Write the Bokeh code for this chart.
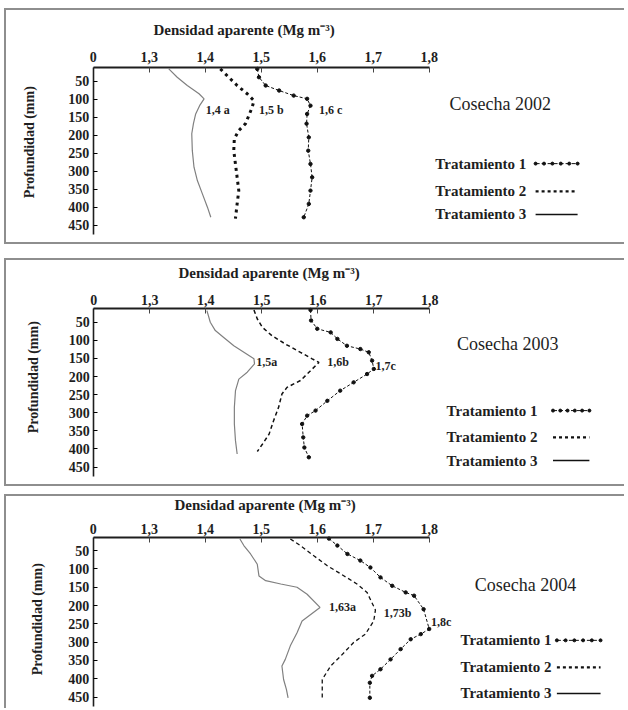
import math
from bokeh.plotting import figure
from bokeh.models import Range1d, FixedTicker
from bokeh.layouts import column
from bokeh.embed import file_html
from bokeh.resources import INLINE
from bokeh.core.properties import value

# ---------------- data ----------------
x_ticks = [1.2, 1.3, 1.4, 1.5, 1.6, 1.7, 1.8]
x_tick_labels = ["0", "1,3", "1,4", "1,5", "1,6", "1,7", "1,8"]
y_ticks = [50, 100, 150, 200, 250, 300, 350, 400, 450]
series_names = ["Tratamiento  1", "Tratamiento  2", "Tratamiento  3"]
x_title = "Densidad aparente (Mg m\u207b\u00b3)"
y_title = "Profundidad  (mm)"

# Cosecha 2002
depth_2002_t1 = [16, 39, 62, 76, 90, 99, 118, 141, 168, 206, 243, 280, 317, 354, 391, 428]
dens_2002_t1 = [1.493, 1.496, 1.508, 1.532, 1.558, 1.582, 1.588, 1.582, 1.581, 1.585,
                1.584, 1.588, 1.591, 1.588, 1.585, 1.576]
depth_2002_t2 = [16, 39, 62, 85, 104, 122, 145, 168, 187, 210, 243, 280, 317, 354, 391, 432]
dens_2002_t2 = [1.427, 1.442, 1.457, 1.475, 1.487, 1.484, 1.478, 1.472, 1.460, 1.452,
                1.451, 1.454, 1.457, 1.460, 1.457, 1.454]
depth_2002_t3 = [16, 39, 62, 85, 99, 118, 141, 168, 196, 243, 289, 326, 363, 400, 428]
dens_2002_t3 = [1.335, 1.350, 1.368, 1.389, 1.398, 1.390, 1.383, 1.379, 1.376, 1.377,
                1.380, 1.386, 1.395, 1.404, 1.410]
labels_2002 = ["1,4 a", "1,5 b", "1,6 c"]
label_x_2002 = [1.401, 1.496, 1.603]
label_d_2002 = [130, 130, 130]

# Cosecha 2003
depth_2003_t1 = [16, 45, 68, 78, 96, 115, 124, 133, 156, 179, 193, 216, 239, 267, 294, 308,
                 331, 368, 396, 423]
dens_2003_t1 = [1.587, 1.588, 1.599, 1.623, 1.635, 1.652, 1.676, 1.691, 1.697, 1.700,
                1.688, 1.664, 1.640, 1.617, 1.596, 1.581, 1.572, 1.574, 1.576, 1.584]
depth_2003_t2 = [16, 41, 64, 87, 110, 133, 151, 161, 184, 211, 230, 248, 285, 322, 359, 387, 407]
dens_2003_t2 = [1.486, 1.492, 1.501, 1.518, 1.542, 1.569, 1.590, 1.602, 1.587, 1.569,
                1.545, 1.536, 1.530, 1.521, 1.513, 1.501, 1.492]
depth_2003_t3 = [18, 50, 73, 92, 115, 133, 151, 165, 188, 207, 239, 285, 331, 377, 414]
dens_2003_t3 = [1.402, 1.408, 1.417, 1.432, 1.450, 1.468, 1.486, 1.487, 1.474, 1.459,
                1.453, 1.451, 1.451, 1.453, 1.456]
labels_2003 = ["1,5a", "1,6b", "1,7c"]
label_x_2003 = [1.490, 1.617, 1.703]
label_d_2003 = [160, 160, 172]

# Cosecha 2004
depth_2004_t1 = [17, 36, 59, 77, 96, 123, 146, 164, 173, 210, 264, 278, 292, 319, 347, 374,
                 392, 411, 452]
dens_2004_t1 = [1.621, 1.636, 1.654, 1.677, 1.695, 1.713, 1.734, 1.758, 1.773, 1.790,
                1.800, 1.785, 1.767, 1.749, 1.731, 1.713, 1.698, 1.694, 1.694]
depth_2004_t2 = [18, 36, 64, 91, 119, 141, 164, 212, 242, 278, 301, 338, 365, 402, 452]
dens_2004_t2 = [1.552, 1.570, 1.594, 1.618, 1.648, 1.671, 1.689, 1.704, 1.701, 1.686,
                1.665, 1.642, 1.624, 1.609, 1.609]
depth_2004_t3 = [18, 36, 59, 87, 119, 132, 141, 150, 169, 205, 242, 274, 310, 347, 365, 402,
                 429, 452]
dens_2004_t3 = [1.462, 1.469, 1.481, 1.493, 1.496, 1.508, 1.535, 1.564, 1.582, 1.605,
                1.573, 1.564, 1.552, 1.543, 1.537, 1.540, 1.545, 1.548]
labels_2004 = ["1,63a", "1,73b", "1,8c"]
label_x_2004 = [1.621, 1.719, 1.803]
label_d_2004 = [203, 220, 245]

SERIF = "Liberation Serif"
BORDER = "2px solid #8e8e8e"
INK = "#1e1e1e"


def make_panel(year, t1, t2, t3, labs, height, canvas_top, axis_px, x0_px, yscale,
               d_axis, tick_standoff, title_pos, ylab_pos, cos_pos, leg_x, leg_d, samp,
               t2_style, margin_top, bottom_border):
    width = 620
    canvas_left = 6
    xs = 560.0  # pixels per density unit

    def fx(px):
        return 1.2 + (px - x0_px) / xs

    def fy(py):
        return d_axis + (py - axis_px) / yscale

    x_start = fx(canvas_left)
    x_end = x_start + width / xs
    y_top = fy(canvas_top)
    y_bot = y_top + height / yscale
    p = figure(width=width, height=height, x_range=Range1d(x_start, x_end),
               y_range=Range1d(y_bot, y_top), x_axis_location="above",
               toolbar_location=None, output_backend="svg",
               min_border_left=0, min_border_right=0,
               min_border_top=0, min_border_bottom=0)
    p.outline_line_color = None
    p.grid.visible = False
    p.background_fill_color = "white"
    p.border_fill_color = "white"

    xa = p.xaxis[0]
    xa.fixed_location = d_axis
    xa.ticker = FixedTicker(ticks=x_ticks)
    xa.major_label_overrides = {t: l for t, l in zip(x_ticks, x_tick_labels)}
    xa.bounds = (1.2, 1.8)
    xa.major_tick_in = 5
    xa.major_tick_out = 0
    xa.minor_tick_in = 0
    xa.minor_tick_out = 0
    xa.axis_line_width = 2
    xa.axis_line_color = INK
    xa.major_tick_line_color = "#444444"
    xa.major_label_standoff = tick_standoff
    xa.major_label_text_font = SERIF
    xa.major_label_text_font_size = "14px"
    xa.major_label_text_font_style = "bold"
    xa.major_label_text_color = INK

    ya = p.yaxis[0]
    ya.fixed_location = 1.2
    ya.ticker = FixedTicker(ticks=y_ticks)
    ya.bounds = (d_axis, 475)
    ya.major_tick_in = 4
    ya.major_tick_out = 0
    ya.minor_tick_in = 0
    ya.minor_tick_out = 0
    ya.axis_line_width = 1.6
    ya.axis_line_color = INK
    ya.major_label_standoff = 4
    ya.major_label_text_font = SERIF
    ya.major_label_text_font_size = "14px"
    ya.major_label_text_font_style = "bold"
    ya.major_label_text_color = INK

    # axis titles
    p.text(x=[fx(title_pos[0])], y=[fy(title_pos[1])], text=[x_title],
           text_font=value(SERIF), text_font_size="15px", text_font_style="bold",
           text_align="left", text_baseline="middle", text_color=INK)
    p.text(x=[fx(ylab_pos[0])], y=[fy(ylab_pos[1])], text=[y_title], angle=math.pi / 2,
           text_font=value(SERIF), text_font_size="14px", text_font_style="bold",
           text_align="center", text_baseline="middle", text_color=INK)

    (d1, v1), (d2, v2), (d3, v3) = t1, t2, t3
    # Tratamiento 3: thin grey solid line
    p.line(v3, d3, line_color="#808080", line_width=1.2)
    # Tratamiento 2
    p.line(v2, d2, line_color="#111111", line_width=t2_style[0], line_dash=t2_style[1])
    # Tratamiento 1: thin dashed line with dots
    p.line(v1, d1, line_color="#111111", line_width=1.0, line_dash="3 2")
    p.scatter(v1, d1, size=3.4, color="#111111")

    lt, lx, ld = labs
    p.text(x=lx, y=ld, text=lt, text_font=value(SERIF), text_font_size="12px",
           text_font_style="bold", text_align="left", text_baseline="middle",
           text_color=INK)

    p.text(x=[cos_pos[0]], y=[cos_pos[1]], text=["Cosecha " + year],
           text_font=value(SERIF), text_font_size="18px", text_align="center",
           text_baseline="middle", text_color=INK)

    p.text(x=[leg_x] * 3, y=leg_d, text=series_names, text_font=value(SERIF),
           text_font_size="15px", text_font_style="bold", text_align="left",
           text_baseline="middle", text_color=INK)
    sx0, sx1 = samp
    p.line([sx0, sx1], [leg_d[0], leg_d[0]], line_color="#111111", line_width=1,
           line_dash="4 2")
    p.scatter([sx0 + (sx1 - sx0) * k / 5 for k in range(6)], [leg_d[0]] * 6,
              size=3, color="#111111")
    p.line([sx0, sx1], [leg_d[1], leg_d[1]], line_color="#111111", line_width=2.2,
           line_dash="3 3")
    p.line([sx0, sx1], [leg_d[2], leg_d[2]], line_color="#111111", line_width=1.5)

    st = {"border-left": BORDER, "border-top": BORDER}
    if bottom_border:
        st["border-bottom"] = BORDER
    p.styles = st
    p.margin = (margin_top, 0, 0, 4)
    return p


p1 = make_panel("2002",
                (depth_2002_t1, dens_2002_t1), (depth_2002_t2, dens_2002_t2),
                (depth_2002_t3, dens_2002_t3),
                (labels_2002, label_x_2002, label_d_2002),
                height=236, canvas_top=10, axis_px=67, x0_px=92.7, yscale=0.36,
                d_axis=12, tick_standoff=6, title_pos=(153, 29), ylab_pos=(29, 140),
                cos_pos=(1.927, 112), leg_x=1.811, leg_d=[279, 356, 420],
                samp=(1.99, 2.065), t2_style=(3, "3 4"), margin_top=8,
                bottom_border=True)
p2 = make_panel("2003",
                (depth_2003_t1, dens_2003_t1), (depth_2003_t2, dens_2003_t2),
                (depth_2003_t3, dens_2003_t3),
                (labels_2003, label_x_2003, label_d_2003),
                height=228, canvas_top=260, axis_px=308, x0_px=93.3, yscale=0.362,
                d_axis=12, tick_standoff=4, title_pos=(178, 272), ylab_pos=(33, 375),
                cos_pos=(1.939, 109), leg_x=1.83, leg_d=[294, 368, 432],
                samp=(2.02, 2.085), t2_style=(1.5, "4 3"), margin_top=14,
                bottom_border=True)
p3 = make_panel("2004",
                (depth_2004_t1, dens_2004_t1), (depth_2004_t2, dens_2004_t2),
                (depth_2004_t3, dens_2004_t3),
                (labels_2004, label_x_2004, label_d_2004),
                height=214, canvas_top=496, axis_px=537, x0_px=92.7, yscale=0.366,
                d_axis=14, tick_standoff=4, title_pos=(174, 504), ylab_pos=(37, 617),
                cos_pos=(1.972, 145), leg_x=1.856, leg_d=[295, 369, 440],
                samp=(2.028, 2.106), t2_style=(1.3, "4 3"), margin_top=8,
                bottom_border=False)

layout = column(p1, p2, p3)
open("out.html", "w").write(file_html(layout, INLINE))
